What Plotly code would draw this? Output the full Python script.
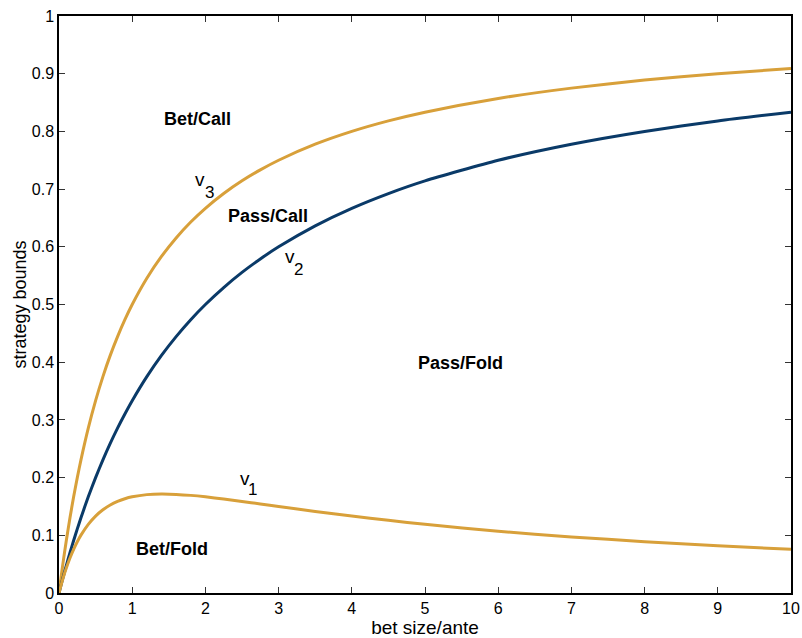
import plotly.graph_objects as go

# bet size / ante
bet = [0, 0.025, 0.05, 0.075, 0.1, 0.15, 0.2, 0.25, 0.3, 0.4, 0.5, 0.6, 0.7, 0.8, 0.9,
       1.0, 1.2, 1.4, 1.6, 1.8, 2.0, 2.25, 2.5, 2.75, 3.0, 3.5, 4.0, 4.5, 5.0, 6.0,
       7.0, 8.0, 9.0, 10.0]
# strategy bounds
v3 = [0, 0.0244, 0.0476, 0.0698, 0.0909, 0.1304, 0.1667, 0.2000, 0.2308, 0.2857,
      0.3333, 0.3750, 0.4118, 0.4444, 0.4737, 0.5000, 0.5455, 0.5833, 0.6154, 0.6429,
      0.6667, 0.6923, 0.7143, 0.7333, 0.7500, 0.7778, 0.8000, 0.8182, 0.8333, 0.8571,
      0.8750, 0.8889, 0.9000, 0.9091]
v2 = [0, 0.0123, 0.0244, 0.0361, 0.0476, 0.0698, 0.0909, 0.1111, 0.1304, 0.1667,
      0.2000, 0.2308, 0.2593, 0.2857, 0.3103, 0.3333, 0.3750, 0.4118, 0.4444, 0.4737,
      0.5000, 0.5294, 0.5556, 0.5789, 0.6000, 0.6364, 0.6667, 0.6923, 0.7143, 0.7500,
      0.7778, 0.8000, 0.8182, 0.8333]
v1 = [0, 0.0121, 0.0232, 0.0337, 0.0433, 0.0607, 0.0758, 0.0889, 0.1003, 0.1190,
      0.1333, 0.1442, 0.1525, 0.1587, 0.1634, 0.1667, 0.1705, 0.1716, 0.1709, 0.1692,
      0.1667, 0.1629, 0.1587, 0.1544, 0.1500, 0.1414, 0.1333, 0.1259, 0.1190, 0.1071,
      0.0972, 0.0889, 0.0818, 0.0758]

x_ticks = [0, 1, 2, 3, 4, 5, 6, 7, 8, 9, 10]
y_ticks = [0, 0.1, 0.2, 0.3, 0.4, 0.5, 0.6, 0.7, 0.8, 0.9, 1]
y_tick_text = ["0", "0.1", "0.2", "0.3", "0.4", "0.5", "0.6", "0.7", "0.8", "0.9", "1"]

regions = [("Bet/Call", 1.89, 0.822), ("Pass/Call", 2.86, 0.653),
           ("Pass/Fold", 5.49, 0.399), ("Bet/Fold", 1.54, 0.076)]
curve_labels = [("v", "3", 1.93, 0.716, 2.05, 0.694),
                ("v", "2", 3.16, 0.583, 3.27, 0.561),
                ("v", "1", 2.54, 0.199, 2.64, 0.180)]

GOLD = "#D8A03A"
BLUE = "#0A3A68"
FONT = "Liberation Sans, Arial, sans-serif"

fig = go.Figure()
for ys, col in [(v3, GOLD), (v2, BLUE), (v1, GOLD)]:
    fig.add_trace(go.Scatter(x=bet, y=ys, mode="lines",
                             line=dict(color=col, width=3, shape="spline", smoothing=0.6),
                             showlegend=False, hoverinfo="skip"))

for txt, xx, yy in regions:
    fig.add_annotation(x=xx, y=yy, text="<b>%s</b>" % txt, showarrow=False,
                       font=dict(family=FONT, size=18, color="black"))
for v, sub, xv, yv, xs, ys in curve_labels:
    fig.add_annotation(x=xv, y=yv, text=v, showarrow=False,
                       font=dict(family=FONT, size=19, color="black"))
    fig.add_annotation(x=xs, y=ys, text=sub, showarrow=False,
                       font=dict(family=FONT, size=17, color="black"))

axis_common = dict(showline=True, linecolor="black", linewidth=1.5, mirror="allticks",
                   ticks="inside", ticklen=6, tickwidth=1, tickcolor="#333",
                   showgrid=False, zeroline=False, automargin=False,
                   tickfont=dict(family=FONT, size=16, color="black"))

fig.update_layout(
    width=802, height=638,
    margin=dict(l=59, r=11, t=16, b=45),
    paper_bgcolor="white", plot_bgcolor="white",
    xaxis=dict(range=[0, 10], tickvals=x_ticks, ticktext=[str(t) for t in x_ticks],
               title=dict(text="bet size/ante", standoff=0,
                          font=dict(family=FONT, size=19, color="black")),
               **axis_common),
    yaxis=dict(range=[0, 1], tickvals=y_ticks, ticktext=y_tick_text,
               title=dict(text="strategy bounds", standoff=0,
                          font=dict(family=FONT, size=18, color="black")),
               **axis_common),
)

fig.write_html("out.html")
